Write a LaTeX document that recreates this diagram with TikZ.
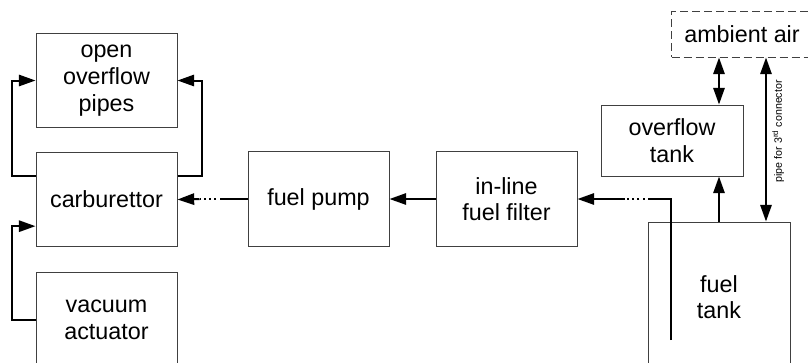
\documentclass[tikz,border=0pt]{standalone}
\usepackage{fontspec}
\setmainfont{Liberation Sans}
\usetikzlibrary{arrows.meta}
\tikzset{
  part/.style={draw=black!75, line width=0.75pt, align=center, font=\fontsize{17.5}{20}\selectfont,
    minimum width=105.75pt, minimum height=71pt, inner sep=0pt},
  outside/.style={part, dashed, dash pattern=on 6pt off 3pt},
  pipe/.style={line width=1.5pt, >={Triangle[length=12.5pt,width=8.5pt]}},
  dotline/.style={pipe, dash pattern=on 1.5pt off 2.5pt},
  pipelabel/.style={font=\fontsize{8}{9}\selectfont, rotate=90, anchor=north, inner sep=4pt},
}
\begin{document}
\begin{tikzpicture}[x=0.75pt,y=-0.75pt]
\useasboundingbox (0,0) rectangle (808,362);
% engine side
\node[part] (pipes) at (106.5,80.5) {open\\overflow\\pipes};
\node[part] (carb) at (106.5,199.5) {carburettor};
\node[part] (vac) at (106.5,319.5) {vacuum\\actuator};
\node[part] (pump) at (318.5,199) {fuel pump};
\node[part] (filter) at (506.5,199) {in-line\\fuel filter};
% tank side
\node[outside, minimum height=34.5pt] (air) at (742,34) {ambient air};
\node[part, minimum width=106.5pt, minimum height=53.25pt] (oftank) at (672,140.5) {overflow\\tank};
\node[part, minimum width=106.5pt, minimum height=112.5pt] (tank) at (719,297) {fuel\\tank};
\coordinate (ventx) at (719,0);
\coordinate (thirdx) at (766,0);
\coordinate (pickup) at (671,340);
% overflow loops
\draw[pipe,->] ([yshift=18pt]carb.west) -- ++(-24,0) |- (pipes.west);
\draw[pipe,->] ([yshift=18pt]carb.east) -- ++(24,0) |- (pipes.east);
\draw[pipe,->] (vac.west) -- ++(-24,0) |- ([yshift=-20pt]carb.west);
% fuel line
\draw[pipe] (pump.west) -- ++(-26,0) coordinate (pa);
\draw[dotline] (pa) -- ++(-22,0) coordinate (pb);
\draw[pipe,->] (pb) -- (carb.east);
\draw[pipe,->] (filter.west) -- (pump.east);
\draw[pipe] (pickup) -- (pickup |- filter.east) -- ++(-21,0) coordinate (fa);
\draw[dotline] (fa) -- ++(-25,0) coordinate (fb);
\draw[pipe,->] (fb) -- (filter.east);
% vents
\draw[pipe,<->] (ventx |- air.south) -- (ventx |- oftank.north);
\draw[pipe,->] (ventx |- tank.north) -- (ventx |- oftank.south);
\draw[pipe,<->] (thirdx |- air.south) -- (thirdx |- tank.north)
  node[pipelabel, pos=0.45] {pipe for 3\textsuperscript{rd} connector};
\end{tikzpicture}
\end{document}
